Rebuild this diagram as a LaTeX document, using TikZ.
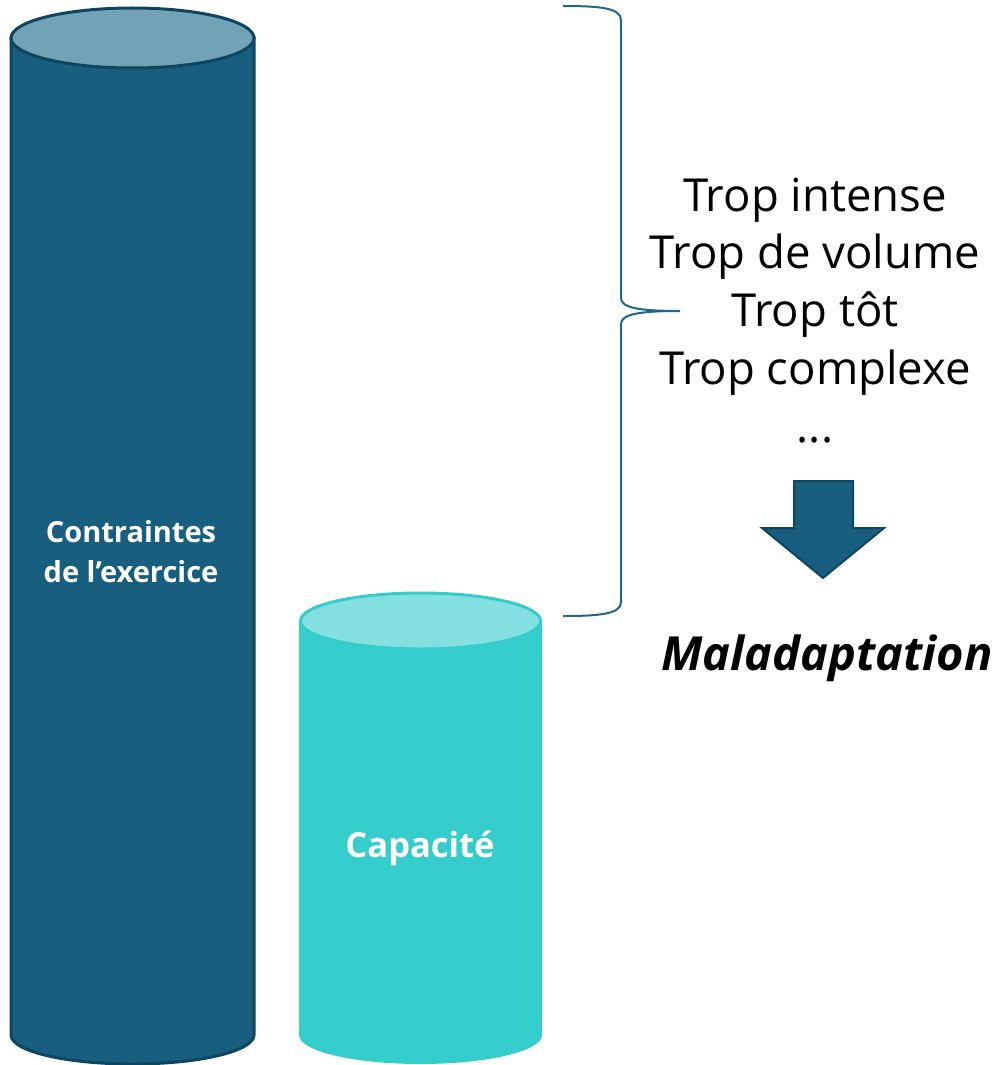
\documentclass[tikz,border=0pt]{standalone}
\usepackage{fontspec}
\setmainfont{Open Sans}
\begin{document}
\definecolor{deepblue}{HTML}{175E7F}
\definecolor{deepedge}{HTML}{0E4560}
\definecolor{deeptop}{HTML}{72A2B6}
\definecolor{teal}{HTML}{35CCCC}
\definecolor{tealtop}{HTML}{84E0E0}
\definecolor{bracecol}{HTML}{1F6688}
\begin{tikzpicture}[x=1pt,y=-1pt,
  listtext/.style={font=\fontsize{45.5}{57}\selectfont, align=center, text=black},
  cyllabel/.style={font=\bfseries\fontsize{29}{40}\selectfont, align=center, text=white},
  result/.style={font=\bfseries\itshape\fontsize{47}{50}\selectfont, text=black}]
\useasboundingbox (0,0) rectangle (1002,1065);
% tall cylinder: constraints of the exercise
\filldraw[fill=deepblue, draw=deepedge, line width=3pt]
  (11,38) -- (11,1035) arc[start angle=180, end angle=0, x radius=121.5, y radius=29] -- (254,38) -- cycle;
\filldraw[fill=deeptop, draw=deepedge, line width=3pt] (132.5,38) ellipse[x radius=121.5, y radius=30];
% short cylinder: capacity
\fill[teal]
  (299,621) -- (299,1035) arc[start angle=180, end angle=0, x radius=121.5, y radius=29] -- (542,621) -- cycle;
\filldraw[fill=tealtop, draw=teal, line width=3pt] (420.5,621) ellipse[x radius=120, y radius=28];
\node[cyllabel] (contraintes) at (131,552) {Contraintes\\de l’exercice};
\node[cyllabel, font=\bfseries\fontsize{34.5}{40}\selectfont] (capacite) at (420,848) {Capacité};
% brace
\coordinate (btop) at (563,6);
\coordinate (btip) at (680,311);
\coordinate (bbot) at (563,616);
\draw[bracecol, line width=2pt]
  (btop) .. controls (600,6) and (621,8) .. (621,20) -- (621,298)
  .. controls (621,308) and (640,311) .. (btip)
  .. controls (640,311) and (621,314) .. (621,324) -- (621,602)
  .. controls (621,614) and (600,616) .. (bbot);
% reasons
\node[listtext, anchor=base] (l1) at (815,211) {Trop intense};
\node[listtext, anchor=base] (l2) at (815,268) {Trop de volume};
\node[listtext, anchor=base] (l3) at (815,326) {Trop tôt};
\node[listtext, anchor=base] (l4) at (815,384) {Trop complexe};
\node[listtext, anchor=base] (l5) at (815,442) {...};
% arrow
\filldraw[fill=deepblue, draw=deepedge, line width=2pt]
  (794,481) -- (853,481) -- (853,528) -- (884,528) -- (823,578) -- (762,528) -- (794,528) -- cycle;
\node[result, anchor=base] (mal) at (827,670) {Maladaptation};
\end{tikzpicture}
\end{document}
